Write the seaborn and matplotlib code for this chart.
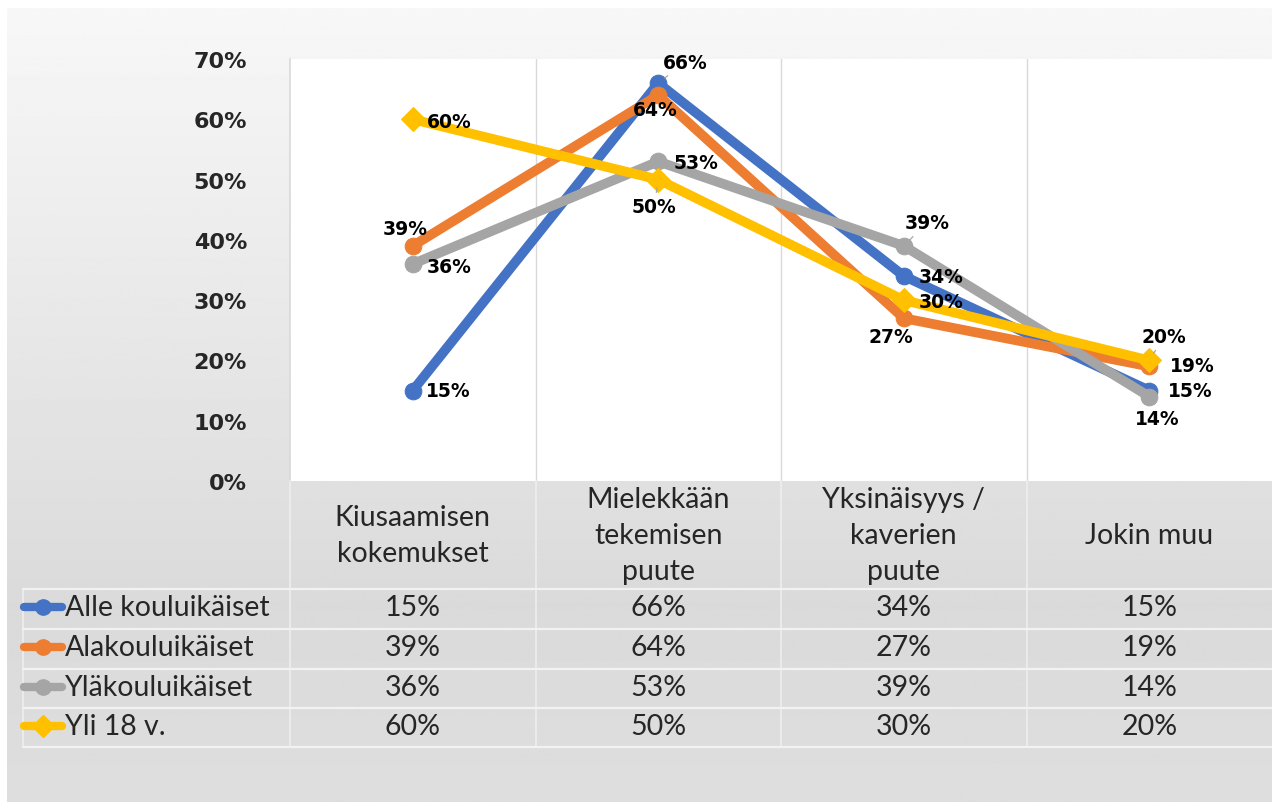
import numpy as np
import pandas as pd
import matplotlib
matplotlib.use('Agg')
import matplotlib.pyplot as plt
import seaborn as sns

CATEGORIES = ['Kiusaamisen\nkokemukset', 'Mielekkään\ntekemisen\npuute',
              'Yksinäisyys /\nkaverien\npuute', 'Jokin muu']
GROUPS = ['Alle kouluikäiset', 'Alakouluikäiset', 'Yläkouluikäiset', 'Yli 18 v.']
alle_kouluikaiset = [15, 66, 34, 15]
alakouluikaiset = [39, 64, 27, 19]
ylakouluikaiset = [36, 53, 39, 14]
yli_18 = [60, 50, 30, 20]
Y_TICKS = [0, 10, 20, 30, 40, 50, 60, 70]

COLORS = ['#4472C4', '#ED7D31', '#A5A5A5', '#FFC000']
MARKERS = ['o', 'o', 'o', 'D']
# label offsets (px) from marker, per group, per category
LABEL_OFFSETS = [
    [(36, 0), (27, 21), (37, 0), (41, 0)],
    [(-8, 17), (-3, -14), (-13, -18), (43, 1)],
    [(36, -3), (38, -1), (23, 23), (8, -22)],
    [(36, -2), (-4, -27), (37, -1), (15, 24)],
]
LEADER = [[False, True, False, False],
          [False, False, False, False],
          [False, False, True, False],
          [False, True, False, True]]

sns.set_style('white')
plt.rcParams['font.family'] = ['DejaVu Sans']

values = [alle_kouluikaiset, alakouluikaiset, ylakouluikaiset, yli_18]
rows = []
for g, vals in zip(GROUPS, values):
    for i, v in enumerate(vals):
        rows.append({'x': i, 'value': v, 'group': g})
df = pd.DataFrame(rows)

W, H = 1272, 803
fig = plt.figure(figsize=(W / 100, H / 100), dpi=100)
fig.patch.set_facecolor('white')


def fx(px):
    return px / W


def fy(py):
    return 1 - py / H


# gray gradient panel behind everything
bg = fig.add_axes([fx(7), 0, fx(W - 7), fy(9)])
yy = np.linspace(0, 1, 400)
shade = np.interp(yy, [0, 0.75, 1], [0.97, 0.855, 0.87])
bg.imshow(np.tile(shade[:, None], (1, 2)), cmap='gray', vmin=0, vmax=1,
          aspect='auto', extent=[0, 1, 1, 0])
bg.axis('off')

# line chart
ax = fig.add_axes([fx(290), fy(482), fx(W - 290), fy(60) - fy(482)])
ax.set_facecolor('white')
palette = dict(zip(GROUPS, COLORS))
markers = dict(zip(GROUPS, MARKERS))
sns.lineplot(data=df, x='x', y='value', hue='group', style='group',
             hue_order=GROUPS, style_order=GROUPS, palette=palette,
             markers=markers, dashes=False, linewidth=7, markersize=12,
             legend=False, ax=ax)
for line in ax.lines:
    line.set_markeredgecolor(line.get_color())
    line.set_solid_capstyle('round')
    line.set_solid_joinstyle('round')

ax.set_xlim(-0.5, 3.5)
ax.set_ylim(0, 70)
ax.set_xticks([])
ax.set_yticks(Y_TICKS)
ax.set_yticklabels([f'{t}%' for t in Y_TICKS], fontsize=16, fontweight='bold')
ax.tick_params(axis='y', length=0, pad=31)
ax.set_xlabel('')
ax.set_ylabel('')
for s in ['top', 'right', 'bottom']:
    ax.spines[s].set_visible(False)
ax.spines['left'].set_color('#d9d9d9')
ax.spines['left'].set_linewidth(1.2)
for b in [0.5, 1.5, 2.5]:
    ax.axvline(b, color='#d9d9d9', lw=1, zorder=0)

for gi, vals in enumerate(values):
    for ci, v in enumerate(vals):
        dx, dy = LABEL_OFFSETS[gi][ci]
        arrow = None
        if LEADER[gi][ci]:
            arrow = dict(arrowstyle='-', color='#a6a6a6', lw=0.9,
                         shrinkA=1, shrinkB=6)
        ax.annotate(f'{v}%', xy=(ci, v), xytext=(dx * 0.72, dy * 0.72),
                    textcoords='offset points', ha='center', va='center',
                    fontsize=13.5, fontweight='bold', color='black',
                    arrowprops=arrow, zorder=5)

# data table
tab = fig.add_axes([fx(290), fy(748), fx(W - 290), fy(482) - fy(748)])
tab.set_xlim(-0.5, 3.5)
tab.set_ylim(266, 0)
tab.axis('off')
tab.patch.set_alpha(0)

x_left = (22 - 290) / 246.5 - 0.5
table_font = ['Lato', 'DejaVu Sans']
row_centers = [126, 166, 206, 245]
for ci, cat in enumerate(CATEGORIES):
    tab.text(ci, 54, cat, ha='center', va='center', fontsize=20.5,
             family=table_font, color='#262626', linespacing=1.48)
for b in [-0.5, 0.5, 1.5, 2.5]:
    tab.plot([b, b], [0, 266], color='#eeeeee', lw=1.2, clip_on=False)
tab.plot([x_left, x_left], [108, 266], color='#eeeeee', lw=1.2, clip_on=False)
for yl in [108, 148, 188, 227, 266]:
    tab.plot([x_left, 3.5], [yl, yl], color='#f2f2f2', lw=1.6, clip_on=False)

for gi, (g, vals) in enumerate(zip(GROUPS, values)):
    yc = row_centers[gi]
    tab.plot([x_left + 0.005, x_left + 0.16], [yc, yc], color=COLORS[gi], lw=6,
             clip_on=False, solid_capstyle='round')
    tab.plot([x_left + 0.082], [yc], marker=MARKERS[gi], ms=11,
             color=COLORS[gi], clip_on=False)
    tab.text(x_left + 0.17, yc, g, ha='left', va='center', fontsize=20.5,
             family=table_font, color='#262626')
    for ci, v in enumerate(vals):
        tab.text(ci, yc, f'{v}%', ha='center', va='center', fontsize=20.5,
                 family=table_font, color='#262626')

fig.savefig('out.png', dpi=100)
